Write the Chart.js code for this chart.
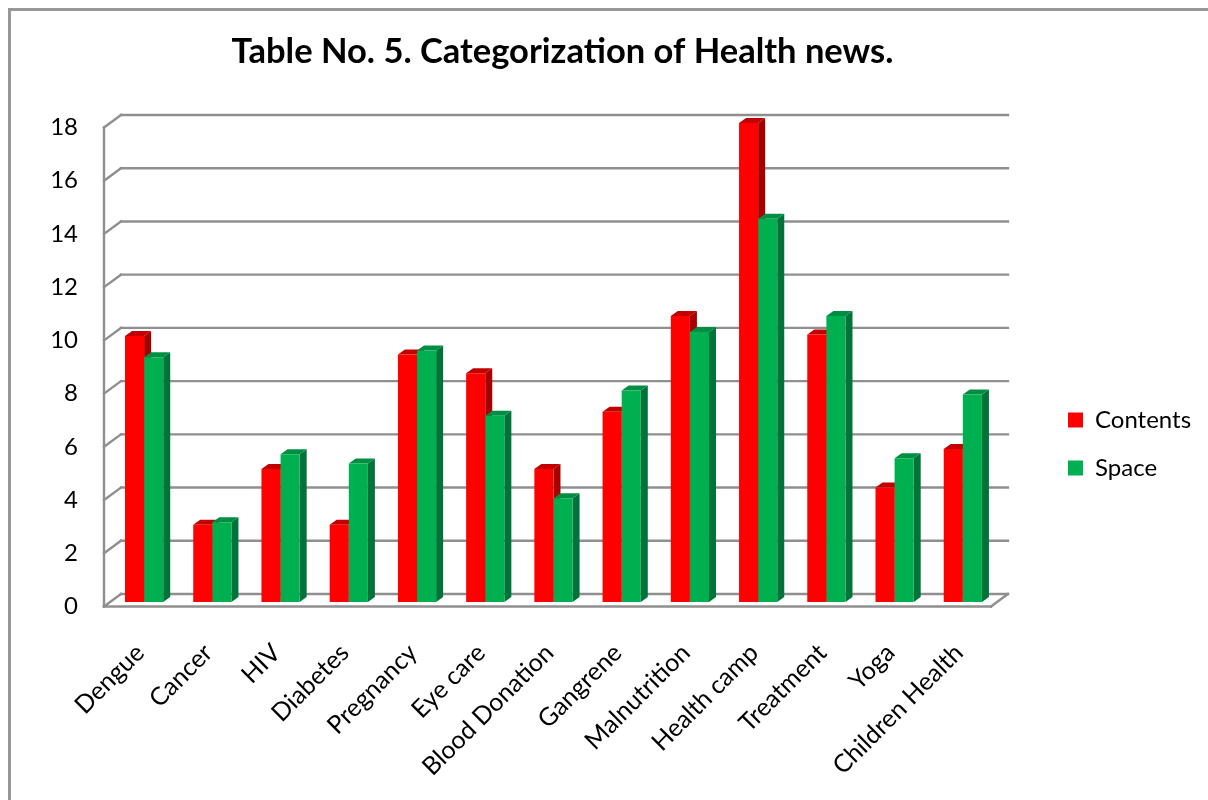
<!DOCTYPE html>
<html>
<head>
<meta charset="utf-8">
<script src="https://cdn.jsdelivr.net/npm/chart.js@4.4.1/dist/chart.umd.min.js"></script>
<style>
  html, body { margin: 0; padding: 0; background: #fff; overflow: hidden; }
  #frame { position: absolute; left: 8px; top: 8px; width: 1400px; height: 1000px;
           border-top: 3px solid #979797; border-left: 3px solid #979797; }
  #wrap { position: absolute; left: 0; top: 0; width: 1208px; height: 800px; }
</style>
</head>
<body>
<div id="frame"></div>
<div id="wrap"><canvas id="chart" width="1208" height="800"></canvas></div>
<script>
// Share of health news (%) by topic
const categories = ['Dengue', 'Cancer', 'HIV', 'Diabetes', 'Pregnancy', 'Eye care', 'Blood Donation',
                    'Gangrene', 'Malnutrition', 'Health camp', 'Treatment', 'Yoga', 'Children Health'];
const contentsShare = [10, 2.9, 5, 2.9, 9.3, 8.6, 5, 7.15, 10.75, 18, 10.05, 4.3, 5.75];
const spaceShare    = [9.2, 3, 5.55, 5.2, 9.45, 7, 3.9, 7.95, 10.15, 14.4, 10.75, 5.4, 7.8];
const seriesNames = ['Contents', 'Space'];
const yTickMin = 0, yTickMax = 18, yTickStep = 2;
const chartTitle = 'Table No. 5. Categorization of Health news.';

// Face shading for the pseudo-3D columns
const faceColors = [
  { front: '#FF0000', side: '#A60000', top: '#C30000' },
  { front: '#00B050', side: '#00733A', top: '#008E43' }
];

// Offsets of the floor/wall planes relative to the column plane
const WALL_FRONT = { dx: -6, dy: 4.5 };
const WALL_BACK  = { dx: 11, dy: -8 };
const BAR_DEPTH  = { dx: 7, dy: 5 };

// Legend and title placement
const LEGEND_LEFT = 1044;
const LEGEND_DROP = 44;
const TITLE_CENTER = 562.5;

const box3d = {
  id: 'box3d',
  beforeDatasetsDraw(chart) {
    const { ctx, chartArea: a, scales: { y } } = chart;
    const seg = (x1, y1, x2, y2) => { ctx.beginPath(); ctx.moveTo(x1, y1); ctx.lineTo(x2, y2); ctx.stroke(); };
    const poly = pts => {
      ctx.beginPath();
      pts.forEach(([px, py], k) => (k ? ctx.lineTo(px, py) : ctx.moveTo(px, py)));
      ctx.closePath();
      ctx.fill();
    };
    ctx.save();
    ctx.lineCap = 'square';
    ctx.strokeStyle = '#8f8f8f';
    ctx.lineWidth = 2.4;

    const fx = a.left + WALL_FRONT.dx, bx = a.left + WALL_BACK.dx;
    // back-wall gridlines and side-wall diagonals
    y.ticks.forEach(t => {
      const py = y.getPixelForValue(t.value);
      seg(fx, py + WALL_FRONT.dy, bx, py + WALL_BACK.dy);
      seg(bx, py + WALL_BACK.dy, a.right + WALL_BACK.dx, py + WALL_BACK.dy);
    });
    // front edge of the side wall
    const pTop = y.getPixelForValue(yTickMax), pZero = y.getPixelForValue(yTickMin);
    seg(fx, pTop + WALL_FRONT.dy, fx, pZero + WALL_FRONT.dy);
    // floor front and right edges
    const frx = a.right + WALL_FRONT.dx;
    seg(fx, pZero + WALL_FRONT.dy, frx, pZero + WALL_FRONT.dy);
    seg(frx, pZero + WALL_FRONT.dy, a.right + WALL_BACK.dx, pZero + WALL_BACK.dy);

    // side and top faces of each column (front faces are drawn by the bar controller)
    const { dx, dy } = BAR_DEPTH;
    chart.data.datasets.forEach((ds, i) => {
      const c = faceColors[i];
      chart.getDatasetMeta(i).data.forEach(bar => {
        const { x, y: top, base, width } = bar.getProps(['x', 'y', 'base', 'width'], true);
        const l = x - width / 2, r = x + width / 2;
        ctx.fillStyle = c.side;
        poly([[r, top], [r + dx, top - dy], [r + dx, base - dy], [r, base]]);
        ctx.fillStyle = c.top;
        poly([[l, top], [l + dx, top - dy], [r + dx, top - dy], [r, top]]);
      });
    });
    ctx.restore();
  }
};

const placement = {
  id: 'placement',
  afterLayout(chart) {
    const lg = chart.legend;
    if (lg) {
      const sx = LEGEND_LEFT - lg.left;
      lg.left += sx; lg.right += sx;
      lg.top += LEGEND_DROP; lg.bottom += LEGEND_DROP;
    }
    const tb = chart.titleBlock;
    if (tb) {
      const tx = TITLE_CENTER - (tb.left + tb.right) / 2;
      tb.left += tx; tb.right += tx;
    }
  }
};

function build() {
  const axisFont = { family: 'Lato', size: 25 };
  new Chart(document.getElementById('chart'), {
    type: 'bar',
    data: {
      labels: categories,
      datasets: [
        { label: seriesNames[0], data: contentsShare, backgroundColor: faceColors[0].front },
        { label: seriesNames[1], data: spaceShare, backgroundColor: faceColors[1].front }
      ]
    },
    options: {
      responsive: false,
      animation: false,
      devicePixelRatio: 1,
      datasets: { bar: { categoryPercentage: 0.56, barPercentage: 1 } },
      layout: { padding: { left: 0, right: 54, top: 0, bottom: 0 } },
      plugins: {
        title: {
          display: true, text: chartTitle, color: '#000',
          font: { family: 'Lato', size: 34.5, weight: 'bold' },
          padding: { top: 31, bottom: 50.6 }
        },
        legend: {
          position: 'right',
          labels: { boxWidth: 15, boxHeight: 15, padding: 24, color: '#000', font: { family: 'Lato', size: 24 } }
        },
        tooltip: { enabled: false }
      },
      scales: {
        x: {
          grid: { display: false, drawTicks: false },
          border: { display: false },
          ticks: { autoSkip: false, minRotation: 45, maxRotation: 45, padding: 36, labelOffset: -4,
                   color: '#000', font: axisFont },
          afterFit: s => { s.height = 198; }
        },
        y: {
          min: yTickMin, max: yTickMax,
          grid: { display: false, drawTicks: false },
          border: { display: false },
          ticks: { stepSize: yTickStep, padding: 32, labelOffset: 4.5, color: '#000',
                   font: { family: 'Lato', size: 24 } },
          afterFit: s => { s.width = 110; }
        }
      }
    },
    plugins: [box3d, placement]
  });
}

Promise.all([
  document.fonts.load('25px Lato'),
  document.fonts.load('24px Lato'),
  document.fonts.load('bold 34.5px Lato')
]).then(build, build);
</script>
</body>
</html>
